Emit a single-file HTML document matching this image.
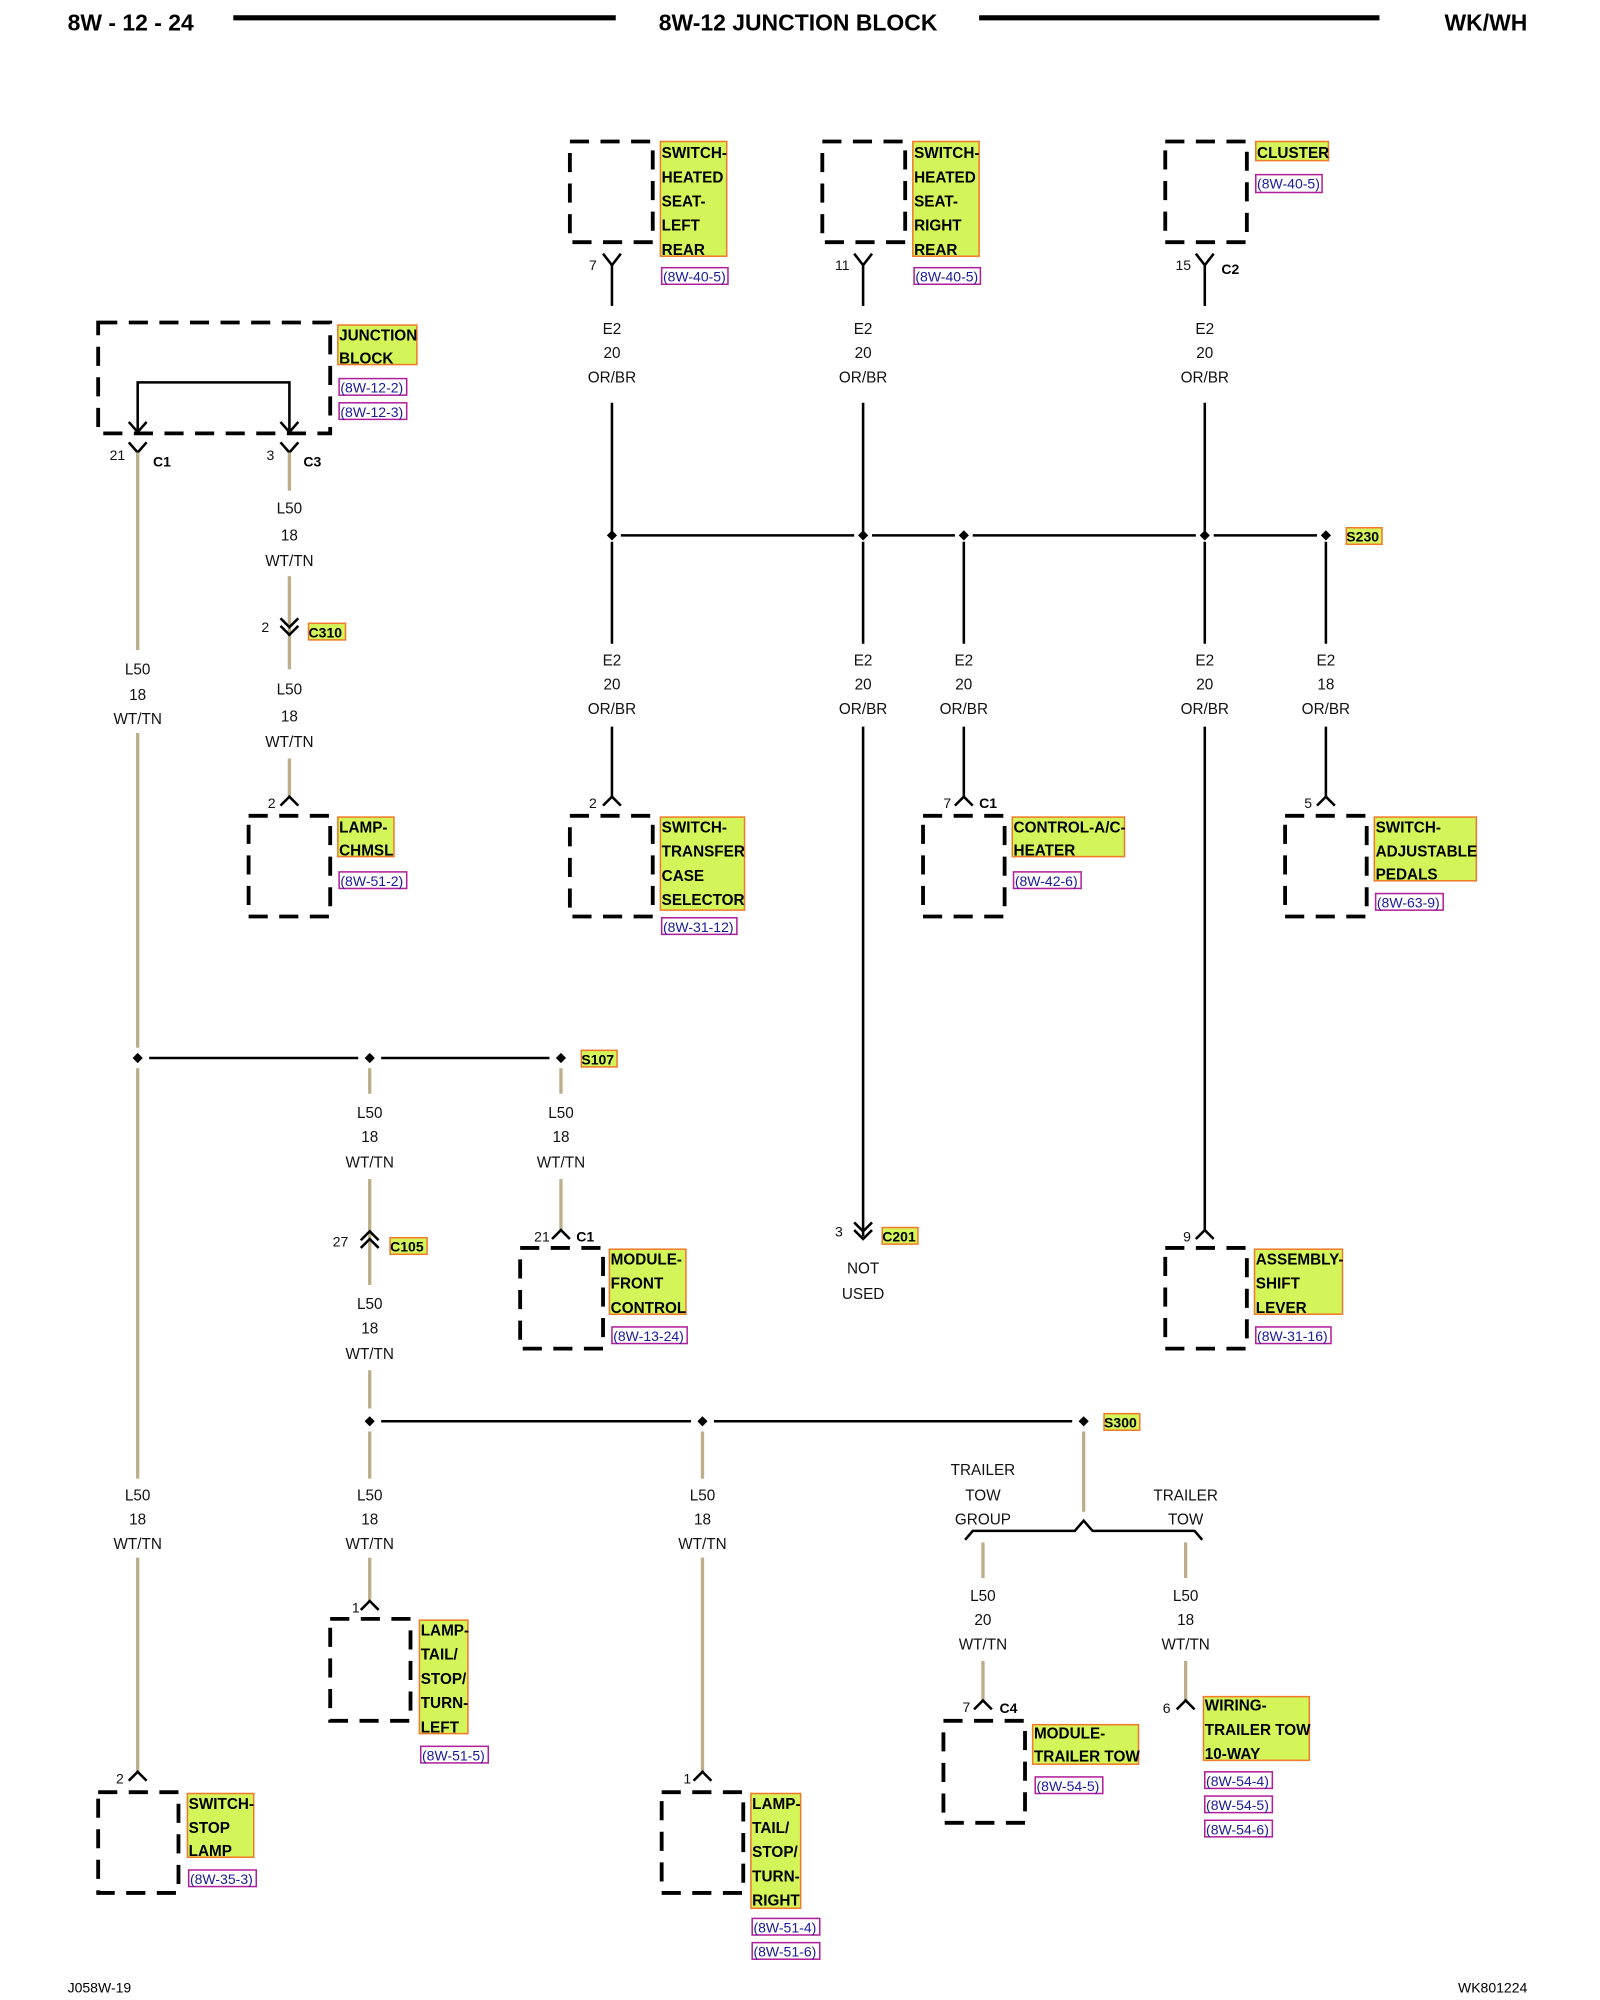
<!DOCTYPE html>
<html><head><meta charset="utf-8"><style>
html,body{margin:0;padding:0;background:#fff;}
svg{display:block;}
text{font-family:"Liberation Sans",Arial,sans-serif;}
.w{font-size:12px;text-anchor:middle;fill:#111;}
.p{font-size:11px;fill:#111;}
.b{font-size:12px;font-weight:bold;fill:#000;}
.r{font-size:11px;fill:#1a1a9a;}
.lb{fill:#d4f55a;stroke:#f07a2a;stroke-width:1.2;}
.rb{fill:#fff;stroke:#b0209a;stroke-width:1.2;}
.bx{fill:none;stroke:#000;stroke-width:3;stroke-dasharray:15 9;}
.k{stroke:#000;stroke-width:2;fill:none;}
.t{stroke:#bcae8a;stroke-width:2.6;fill:none;}
.c{stroke:#000;stroke-width:2;fill:none;}
</style></head><body>
<svg width="1600" height="2000" viewBox="0 0 1255 1569" preserveAspectRatio="none" xmlns="http://www.w3.org/2000/svg">
<!-- header -->
<text x="53" y="24" style="font-size:18px;font-weight:bold">8W - 12 - 24</text>
<line x1="183" y1="14" x2="483" y2="14" stroke="#000" stroke-width="4"/>
<text x="626" y="24" style="font-size:18px;font-weight:bold" text-anchor="middle">8W-12 JUNCTION BLOCK</text>
<line x1="768" y1="14" x2="1082" y2="14" stroke="#000" stroke-width="4"/>
<text x="1198" y="24" style="font-size:18px;font-weight:bold" text-anchor="end">WK/WH</text>
<text x="53" y="1563" style="font-size:11px">J058W-19</text>
<text x="1198" y="1563" style="font-size:11px" text-anchor="end">WK801224</text>

<!-- top components -->
<rect class="bx" x="447" y="111" width="65" height="79"/>
<rect class="lb" x="518" y="111" width="52" height="90"/>
<text class="b" x="519" y="124">SWITCH-</text><text class="b" x="519" y="143">HEATED</text><text class="b" x="519" y="162">SEAT-</text><text class="b" x="519" y="181">LEFT</text><text class="b" x="519" y="200">REAR</text>
<rect class="rb" x="519" y="210" width="52" height="13"/><text class="r" x="520" y="221">(8W-40-5)</text>
<path class="c" d="M473,199 L480,208 L487,199"/><text class="p" x="462" y="212">7</text>
<line class="k" x1="480" y1="208" x2="480" y2="240"/>

<rect class="bx" x="645" y="111" width="65" height="79"/>
<rect class="lb" x="716" y="111" width="52" height="90"/>
<text class="b" x="717" y="124">SWITCH-</text><text class="b" x="717" y="143">HEATED</text><text class="b" x="717" y="162">SEAT-</text><text class="b" x="717" y="181">RIGHT</text><text class="b" x="717" y="200">REAR</text>
<rect class="rb" x="717" y="210" width="52" height="13"/><text class="r" x="718" y="221">(8W-40-5)</text>
<path class="c" d="M670,199 L677,208 L684,199"/><text class="p" x="655" y="212">11</text>
<line class="k" x1="677" y1="208" x2="677" y2="240"/>

<rect class="bx" x="914" y="111" width="64" height="79"/>
<rect class="lb" x="985" y="111" width="57" height="15"/><text class="b" x="986" y="124">CLUSTER</text>
<rect class="rb" x="985" y="137" width="52" height="14"/><text class="r" x="986" y="148">(8W-40-5)</text>
<path class="c" d="M938,199 L945,208 L952,199"/><text class="p" x="922" y="212">15</text><text class="b" x="958" y="215" style="font-size:11px">C2</text>
<line class="k" x1="945" y1="208" x2="945" y2="240"/>

<g class="w">
<text x="480" y="262">E2</text><text x="480" y="281">20</text><text x="480" y="300">OR/BR</text>
<text x="677" y="262">E2</text><text x="677" y="281">20</text><text x="677" y="300">OR/BR</text>
<text x="945" y="262">E2</text><text x="945" y="281">20</text><text x="945" y="300">OR/BR</text>
</g>
<line class="k" x1="480" y1="316" x2="480" y2="420"/>
<line class="k" x1="677" y1="316" x2="677" y2="420"/>
<line class="k" x1="945" y1="316" x2="945" y2="420"/>

<!-- S230 -->
<line class="k" x1="487" y1="420" x2="670" y2="420"/>
<line class="k" x1="684" y1="420" x2="749" y2="420"/>
<line class="k" x1="763" y1="420" x2="938" y2="420"/>
<line class="k" x1="952" y1="420" x2="1033" y2="420"/>
<g fill="#000"><path d="M480,416 l4,4 -4,4 -4,-4z"/><path d="M677,416 l4,4 -4,4 -4,-4z"/><path d="M756,416 l4,4 -4,4 -4,-4z"/><path d="M945,416 l4,4 -4,4 -4,-4z"/><path d="M1040,416 l4,4 -4,4 -4,-4z"/></g>
<rect class="lb" x="1056" y="414" width="28" height="13"/><text class="b" x="1056" y="425" style="font-size:11px">S230</text>

<g class="w">
<text x="480" y="522">E2</text><text x="480" y="541">20</text><text x="480" y="560">OR/BR</text>
<text x="677" y="522">E2</text><text x="677" y="541">20</text><text x="677" y="560">OR/BR</text>
<text x="756" y="522">E2</text><text x="756" y="541">20</text><text x="756" y="560">OR/BR</text>
<text x="945" y="522">E2</text><text x="945" y="541">20</text><text x="945" y="560">OR/BR</text>
<text x="1040" y="522">E2</text><text x="1040" y="541">18</text><text x="1040" y="560">OR/BR</text>
</g>
<g class="k">
<line x1="480" y1="425" x2="480" y2="505"/><line x1="480" y1="570" x2="480" y2="626"/>
<line x1="677" y1="425" x2="677" y2="505"/><line x1="677" y1="570" x2="677" y2="970"/>
<line x1="756" y1="425" x2="756" y2="505"/><line x1="756" y1="570" x2="756" y2="626"/>
<line x1="945" y1="425" x2="945" y2="505"/><line x1="945" y1="570" x2="945" y2="966"/>
<line x1="1040" y1="425" x2="1040" y2="505"/><line x1="1040" y1="570" x2="1040" y2="626"/>
</g>
<!-- transfer case -->
<path class="c" d="M473,632 L480,625 L487,632"/><text class="p" x="462" y="634">2</text>
<rect class="bx" x="447" y="640" width="65" height="79"/>
<rect class="lb" x="518" y="641" width="66" height="73"/>
<text class="b" x="519" y="653">SWITCH-</text><text class="b" x="519" y="672">TRANSFER</text><text class="b" x="519" y="691">CASE</text><text class="b" x="519" y="710">SELECTOR</text>
<rect class="rb" x="519" y="720" width="59" height="13"/><text class="r" x="520" y="731">(8W-31-12)</text>
<!-- C201 -->
<path class="c" d="M670,959 L677,966 L684,959 M670,965 L677,972 L684,965"/><text class="p" x="655" y="970">3</text>
<rect class="lb" x="692" y="963" width="28" height="13"/><text class="b" x="692" y="974" style="font-size:11px">C201</text>
<text class="w" x="677" y="999">NOT</text><text class="w" x="677" y="1019">USED</text>
<!-- control a/c -->
<path class="c" d="M749,632 L756,625 L763,632"/><text class="p" x="740" y="634">7</text><text class="b" x="768" y="634" style="font-size:11px">C1</text>
<rect class="bx" x="724" y="640" width="64" height="79"/>
<rect class="lb" x="794" y="641" width="88" height="31"/>
<text class="b" x="795" y="653">CONTROL-A/C-</text><text class="b" x="795" y="671">HEATER</text>
<rect class="rb" x="795" y="684" width="53" height="13"/><text class="r" x="796" y="695">(8W-42-6)</text>
<!-- shift lever -->
<path class="c" d="M938,972 L945,965 L952,972"/><text class="p" x="928" y="974">9</text>
<rect class="bx" x="914" y="979" width="64" height="79"/>
<rect class="lb" x="984" y="980" width="69" height="51"/>
<text class="b" x="985" y="992">ASSEMBLY-</text><text class="b" x="985" y="1011">SHIFT</text><text class="b" x="985" y="1030">LEVER</text>
<rect class="rb" x="985" y="1041" width="59" height="13"/><text class="r" x="986" y="1052">(8W-31-16)</text>
<!-- pedals -->
<path class="c" d="M1033,632 L1040,625 L1047,632"/><text class="p" x="1023" y="634">5</text>
<rect class="bx" x="1008" y="640" width="64" height="79"/>
<rect class="lb" x="1078" y="641" width="80" height="50"/>
<text class="b" x="1079" y="653">SWITCH-</text><text class="b" x="1079" y="672">ADJUSTABLE</text><text class="b" x="1079" y="690">PEDALS</text>
<rect class="rb" x="1079" y="701" width="53" height="13"/><text class="r" x="1080" y="712">(8W-63-9)</text>

<!-- junction block -->
<rect class="bx" x="77" y="253" width="182" height="87"/>
<path class="k" d="M108,338 L108,300 L227,300 L227,338"/>
<path class="c" d="M101,331 L108,339 L115,331 M220,331 L227,339 L234,331"/>
<rect class="lb" x="265" y="255" width="62" height="31"/>
<text class="b" x="266" y="267">JUNCTION</text><text class="b" x="266" y="285">BLOCK</text>
<rect class="rb" x="266" y="297" width="53" height="13"/><text class="r" x="267" y="308">(8W-12-2)</text>
<rect class="rb" x="266" y="316" width="53" height="13"/><text class="r" x="267" y="327">(8W-12-3)</text>
<path class="c" d="M101,347 L108,355 L115,347 M220,347 L227,355 L234,347"/>
<text class="p" x="86" y="361">21</text><text class="b" x="120" y="366" style="font-size:11px">C1</text>
<text class="p" x="209" y="361">3</text><text class="b" x="238" y="366" style="font-size:11px">C3</text>

<g class="t">
<line x1="108" y1="355" x2="108" y2="510"/><line x1="108" y1="575" x2="108" y2="822"/>
<line x1="108" y1="838" x2="108" y2="1160"/><line x1="108" y1="1222" x2="108" y2="1390"/>
<line x1="227" y1="355" x2="227" y2="385"/><line x1="227" y1="452" x2="227" y2="525"/><line x1="227" y1="595" x2="227" y2="626"/>
<line x1="290" y1="838" x2="290" y2="858"/><line x1="290" y1="925" x2="290" y2="1008"/><line x1="290" y1="1075" x2="290" y2="1105"/>
<line x1="440" y1="838" x2="440" y2="858"/><line x1="440" y1="925" x2="440" y2="965"/>
<line x1="290" y1="1123" x2="290" y2="1160"/><line x1="290" y1="1222" x2="290" y2="1256"/>
<line x1="551" y1="1123" x2="551" y2="1160"/><line x1="551" y1="1222" x2="551" y2="1390"/>
<line x1="850" y1="1123" x2="850" y2="1186"/>
<line x1="771" y1="1210" x2="771" y2="1238"/><line x1="771" y1="1303" x2="771" y2="1334"/>
<line x1="930" y1="1210" x2="930" y2="1238"/><line x1="930" y1="1303" x2="930" y2="1334"/>
</g>
<g class="w">
<text x="108" y="529">L50</text><text x="108" y="549">18</text><text x="108" y="568">WT/TN</text>
<text x="227" y="403">L50</text><text x="227" y="424">18</text><text x="227" y="444">WT/TN</text>
<text x="227" y="545">L50</text><text x="227" y="566">18</text><text x="227" y="586">WT/TN</text>
<text x="290" y="877">L50</text><text x="290" y="896">18</text><text x="290" y="916">WT/TN</text>
<text x="440" y="877">L50</text><text x="440" y="896">18</text><text x="440" y="916">WT/TN</text>
<text x="290" y="1027">L50</text><text x="290" y="1046">18</text><text x="290" y="1066">WT/TN</text>
<text x="108" y="1177">L50</text><text x="108" y="1196">18</text><text x="108" y="1215">WT/TN</text>
<text x="290" y="1177">L50</text><text x="290" y="1196">18</text><text x="290" y="1215">WT/TN</text>
<text x="551" y="1177">L50</text><text x="551" y="1196">18</text><text x="551" y="1215">WT/TN</text>
<text x="771" y="1157">TRAILER</text><text x="771" y="1177">TOW</text><text x="771" y="1196">GROUP</text>
<text x="930" y="1177">TRAILER</text><text x="930" y="1196">TOW</text>
<text x="771" y="1256">L50</text><text x="771" y="1275">20</text><text x="771" y="1294">WT/TN</text>
<text x="930" y="1256">L50</text><text x="930" y="1275">18</text><text x="930" y="1294">WT/TN</text>
</g>
<!-- C310 -->
<path class="c" d="M220,485 L227,492 L234,485 M220,491 L227,498 L234,491"/><text class="p" x="205" y="496">2</text>
<rect class="lb" x="242" y="489" width="29" height="13"/><text class="b" x="242" y="500" style="font-size:11px">C310</text>
<!-- CHMSL -->
<path class="c" d="M220,632 L227,625 L234,632"/><text class="p" x="210" y="634">2</text>
<rect class="bx" x="195" y="640" width="64" height="79"/>
<rect class="lb" x="265" y="641" width="44" height="31"/>
<text class="b" x="266" y="653">LAMP-</text><text class="b" x="266" y="671">CHMSL</text>
<rect class="rb" x="266" y="684" width="53" height="13"/><text class="r" x="267" y="695">(8W-51-2)</text>

<!-- S107 -->
<line class="k" x1="117" y1="830" x2="281" y2="830"/><line class="k" x1="299" y1="830" x2="431" y2="830"/>
<g fill="#000"><path d="M108,826 l4,4 -4,4 -4,-4z"/><path d="M290,826 l4,4 -4,4 -4,-4z"/><path d="M440,826 l4,4 -4,4 -4,-4z"/></g>
<rect class="lb" x="456" y="824" width="28" height="13"/><text class="b" x="456" y="835" style="font-size:11px">S107</text>
<!-- C105 -->
<path class="c" d="M283,973 L290,966 L297,973 M283,979 L290,972 L297,979"/><text class="p" x="261" y="978">27</text>
<rect class="lb" x="306" y="971" width="29" height="13"/><text class="b" x="306" y="982" style="font-size:11px">C105</text>
<!-- front control -->
<path class="c" d="M433,972 L440,965 L447,972"/><text class="p" x="419" y="974">21</text><text class="b" x="452" y="974" style="font-size:11px">C1</text>
<rect class="bx" x="408" y="979" width="65" height="79"/>
<rect class="lb" x="478" y="980" width="60" height="51"/>
<text class="b" x="479" y="992">MODULE-</text><text class="b" x="479" y="1011">FRONT</text><text class="b" x="479" y="1030">CONTROL</text>
<rect class="rb" x="480" y="1041" width="59" height="13"/><text class="r" x="481" y="1052">(8W-13-24)</text>

<!-- S300 -->
<line class="k" x1="299" y1="1115" x2="542" y2="1115"/><line class="k" x1="560" y1="1115" x2="841" y2="1115"/>
<g fill="#000"><path d="M290,1111 l4,4 -4,4 -4,-4z"/><path d="M551,1111 l4,4 -4,4 -4,-4z"/><path d="M850,1111 l4,4 -4,4 -4,-4z"/></g>
<rect class="lb" x="866" y="1109" width="28" height="13"/><text class="b" x="866" y="1120" style="font-size:11px">S300</text>
<path class="c" d="M757,1208 L763,1201 L843,1201 L850,1193 L857,1201 L937,1201 L943,1208" stroke-width="1.6"/>

<!-- stop lamp -->
<path class="c" d="M101,1397 L108,1390 L115,1397"/><text class="p" x="91" y="1399">2</text>
<rect class="bx" x="77" y="1406" width="63" height="79"/>
<rect class="lb" x="147" y="1407" width="52" height="50"/>
<text class="b" x="148" y="1419">SWITCH-</text><text class="b" x="148" y="1438">STOP</text><text class="b" x="148" y="1456">LAMP</text>
<rect class="rb" x="148" y="1467" width="53" height="13"/><text class="r" x="149" y="1478">(8W-35-3)</text>
<!-- tail left -->
<path class="c" d="M283,1263 L290,1256 L297,1263"/><text class="p" x="276" y="1265">1</text>
<rect class="bx" x="259" y="1270" width="63" height="80"/>
<rect class="lb" x="329" y="1271" width="38" height="89"/>
<text class="b" x="330" y="1283">LAMP-</text><text class="b" x="330" y="1302">TAIL/</text><text class="b" x="330" y="1321">STOP/</text><text class="b" x="330" y="1340">TURN-</text><text class="b" x="330" y="1359">LEFT</text>
<rect class="rb" x="330" y="1370" width="53" height="13"/><text class="r" x="331" y="1381">(8W-51-5)</text>
<!-- tail right -->
<path class="c" d="M544,1397 L551,1390 L558,1397"/><text class="p" x="536" y="1399">1</text>
<rect class="bx" x="519" y="1406" width="64" height="79"/>
<rect class="lb" x="589" y="1407" width="39" height="90"/>
<text class="b" x="590" y="1419">LAMP-</text><text class="b" x="590" y="1438">TAIL/</text><text class="b" x="590" y="1457">STOP/</text><text class="b" x="590" y="1476">TURN-</text><text class="b" x="590" y="1495">RIGHT</text>
<rect class="rb" x="590" y="1505" width="53" height="13"/><text class="r" x="591" y="1516">(8W-51-4)</text>
<rect class="rb" x="590" y="1524" width="53" height="13"/><text class="r" x="591" y="1535">(8W-51-6)</text>
<!-- trailer tow module -->
<path class="c" d="M764,1341 L771,1334 L778,1341"/><text class="p" x="755" y="1343">7</text><text class="b" x="784" y="1344" style="font-size:11px">C4</text>
<rect class="bx" x="740" y="1350" width="64" height="80"/>
<rect class="lb" x="810" y="1353" width="83" height="31"/>
<text class="b" x="811" y="1364">MODULE-</text><text class="b" x="811" y="1382">TRAILER TOW</text>
<rect class="rb" x="812" y="1394" width="53" height="13"/><text class="r" x="813" y="1405">(8W-54-5)</text>
<!-- wiring trailer tow -->
<path class="c" d="M923,1341 L930,1334 L937,1341"/><text class="p" x="912" y="1344">6</text>
<rect class="lb" x="944" y="1331" width="83" height="50"/>
<text class="b" x="945" y="1342">WIRING-</text><text class="b" x="945" y="1361">TRAILER TOW</text><text class="b" x="945" y="1380">10-WAY</text>
<rect class="rb" x="945" y="1390" width="53" height="13"/><text class="r" x="946" y="1401">(8W-54-4)</text>
<rect class="rb" x="945" y="1409" width="53" height="13"/><text class="r" x="946" y="1420">(8W-54-5)</text>
<rect class="rb" x="945" y="1428" width="53" height="13"/><text class="r" x="946" y="1439">(8W-54-6)</text>
</svg>
</body></html>
